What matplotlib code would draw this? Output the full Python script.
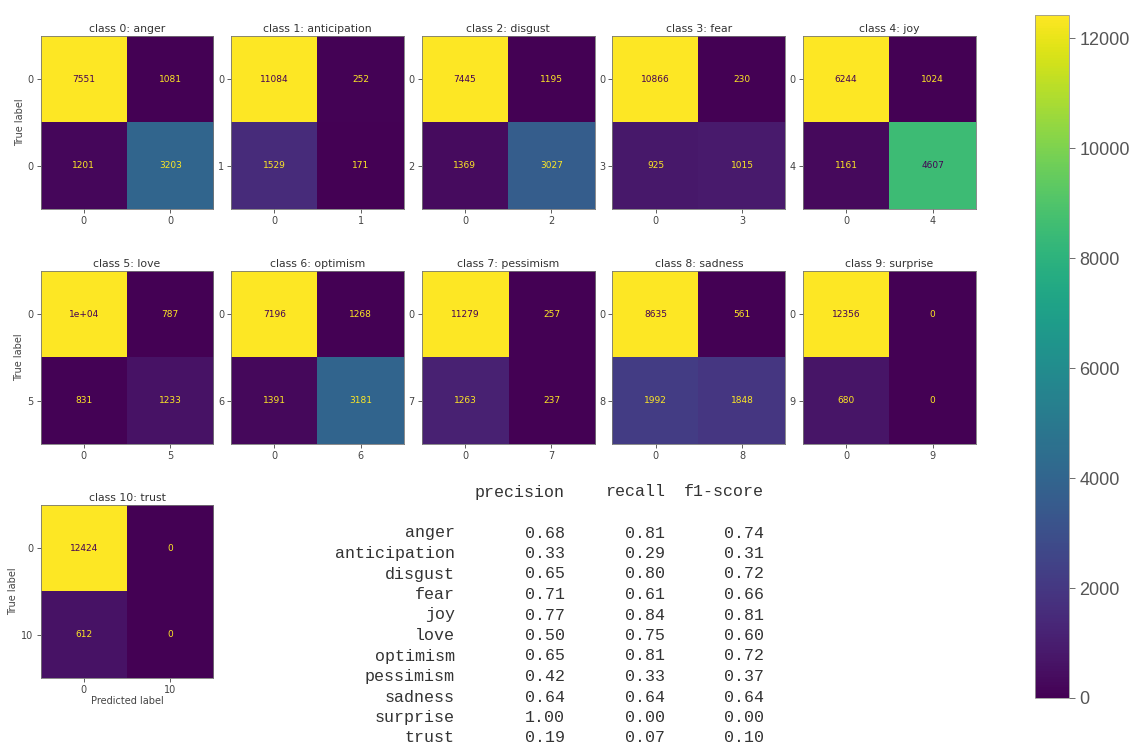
import matplotlib
matplotlib.use("Agg")
import matplotlib.pyplot as plt
import numpy as np

# one-vs-rest confusion matrices: [[tn, fp], [fn, tp]] per emotion
classes = ["anger", "anticipation", "disgust", "fear", "joy", "love",
           "optimism", "pessimism", "sadness", "surprise", "trust"]
tn = [7551, 11084, 7445, 10866, 6244, 10185, 7196, 11279, 8635, 12356, 12424]
fp = [1081, 252, 1195, 230, 1024, 787, 1268, 257, 561, 0, 0]
fn = [1201, 1529, 1369, 925, 1161, 831, 1391, 1263, 1992, 680, 612]
tp = [3203, 171, 3027, 1015, 4607, 1233, 3181, 237, 1848, 0, 0]
# tick labels shown on each matrix (anger's negative/positive both read 0)
neg_labels = ["0"] * 11
pos_labels = ["0", "1", "2", "3", "4", "5", "6", "7", "8", "9", "10"]

# classification report
precision = [0.68, 0.33, 0.65, 0.71, 0.77, 0.50, 0.65, 0.42, 0.64, 1.00, 0.19]
recall = [0.81, 0.29, 0.80, 0.61, 0.84, 0.75, 0.81, 0.33, 0.64, 0.00, 0.07]
f1 = [0.74, 0.31, 0.72, 0.66, 0.81, 0.60, 0.72, 0.37, 0.64, 0.00, 0.10]

W, H = 1133, 746
fig = plt.figure(figsize=(W / 100, H / 100), dpi=100)
cmap = plt.get_cmap("viridis")
tick_color = "#444444"


def fmt(v):
    # same rule as sklearn: shorter of '.2g' and 'd'
    s = format(v, ".2g")
    d = format(v, "d")
    return d if len(d) < len(s) else s


def px_axes(x0, y_top, w, h):
    return fig.add_axes([x0 / W, (H - y_top - h) / H, w / W, h / H])


last_im = None
for k, name in enumerate(classes):
    row, col = divmod(k, 5)
    tops = [36, 271, 505]
    ax = px_axes(40 + col * 190.6, tops[row], 174, 173)
    cm = np.array([[tn[k], fp[k]], [fn[k], tp[k]]])
    im = ax.imshow(cm, cmap=cmap, interpolation="nearest")
    last_im = im
    thresh = (cm.min() + cm.max()) / 2.0
    for i in range(2):
        for j in range(2):
            color = cmap(0.0) if cm[i, j] >= thresh else cmap(1.0)
            ax.text(j, i, fmt(int(cm[i, j])), ha="center", va="center",
                    fontsize=6.5, color=color)
    labels = [neg_labels[k], pos_labels[k]]
    ax.set_xticks([0, 1])
    ax.set_yticks([0, 1])
    ax.set_xticklabels(labels)
    ax.set_yticklabels(labels)
    ax.tick_params(labelsize=7, colors=tick_color, length=3, width=0.6, pad=2)
    for sp in ax.spines.values():
        sp.set_color("#777777")
        sp.set_linewidth(0.6)
    ax.set_title(f"class {k}: {name}", fontsize=7.8, color="#333333", pad=3)
    if col == 0:
        ax.set_ylabel("True label", fontsize=7, color=tick_color, labelpad=2)
    if k == len(classes) - 1:
        ax.set_xlabel("Predicted label", fontsize=7, color=tick_color, labelpad=1)

# shared colour scale
cax = px_axes(1035, 15, 34, 683)
cb = fig.colorbar(last_im, cax=cax)
cb.set_ticks([0, 2000, 4000, 6000, 8000, 10000, 12000])
cb.ax.tick_params(labelsize=13, colors="#555555", length=4, width=0.6)
for lab in cb.ax.get_yticklabels():
    lab.set_family("Liberation Sans")
cb.outline.set_edgecolor("#999999")
cb.outline.set_linewidth(0.6)

# text report, monospace, right-aligned columns
mono = dict(family="Liberation Mono", fontsize=12, color="#333333")


def put(x, y, s, ha="right"):
    fig.text(x / W, 1 - y / H, s, ha=ha, va="center", **mono)


put(565, 492, "precision")
put(665, 492, "recall")
put(764, 492, "f1-score")
for i, name in enumerate(classes):
    y = 533 + i * 20.5
    put(455, y, name)
    put(565, y, f"{precision[i]:.2f}")
    put(665, y, f"{recall[i]:.2f}")
    put(764, y, f"{f1[i]:.2f}")

fig.savefig("out.png", dpi=100, facecolor="white")
